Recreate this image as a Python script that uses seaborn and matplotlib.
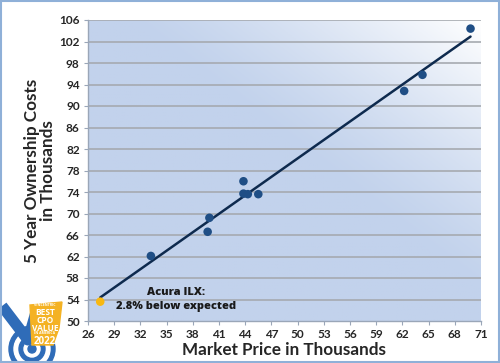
import matplotlib
matplotlib.use("Agg")
import matplotlib.pyplot as plt
import matplotlib.patches as mpatches
from matplotlib.colors import LinearSegmentedColormap
import seaborn as sns
import numpy as np
import pandas as pd

# market price vs 5 year ownership cost (thousands)
market_price = [27.4, 33.2, 39.7, 39.9, 43.8, 43.8, 44.3, 45.5, 62.2, 64.3, 69.8]
ownership_cost = [53.6, 62.1, 66.6, 69.2, 76.0, 73.7, 73.6, 73.6, 92.8, 95.8, 104.4]
highlight = ["Acura ILX"] + ["other"] * 10

x_ticks = list(range(26, 72, 3))
y_ticks = list(range(50, 107, 4))

df = pd.DataFrame({"price": market_price, "cost": ownership_cost, "car": highlight})

sns.set_theme(style="white")
plt.rcParams["font.family"] = ["Lato", "DejaVu Sans"]

fig = plt.figure(figsize=(5, 3.63), dpi=100)
ax = fig.add_axes([88 / 500, 1 - 321 / 363, 393 / 500, 301 / 363])

# gradient background: blue, fading to white toward the top-right corner
gx, gy = np.meshgrid(np.linspace(0, 1, 200), np.linspace(0, 1, 200))
t = np.clip(((gx + gy) / 2 - 0.55) / 0.45, 0, 1) ** 1.3
cmap = LinearSegmentedColormap.from_list("bg", ["#c2d2ec", "#ffffff"])
ax.imshow(t, cmap=cmap, extent=[26, 71, 50, 106], origin="lower",
          aspect="auto", zorder=0, vmin=0, vmax=1)

for yv in y_ticks[1:]:
    ax.axhline(yv, color="#a6aab0", lw=1.2, zorder=1)

# linear trend line
slope, icpt = np.polyfit(market_price, ownership_cost, 1)
xl = np.array([min(market_price), max(market_price)])
ax.plot(xl, slope * xl + icpt, color="#0e2a4e", lw=1.8, zorder=3)

sns.scatterplot(data=df, x="price", y="cost", hue="car",
                palette={"Acura ILX": "#f8b812", "other": "#1f4e85"},
                s=38, edgecolor="none", legend=False, zorder=4, ax=ax)

ax.set_xlim(26, 71)
ax.set_ylim(50, 106)
ax.set_xticks(x_ticks)
ax.set_yticks(y_ticks)
ax.tick_params(axis="both", labelsize=8.5, length=3, width=0.8,
               color="#9aa6b8", pad=3, direction="out", bottom=True, left=True)
for lab in ax.get_xticklabels() + ax.get_yticklabels():
    lab.set_fontweight("bold")
for side in ["top", "right"]:
    ax.spines[side].set_visible(False)
for side in ["left", "bottom"]:
    ax.spines[side].set_color("#9aa6b8")
    ax.spines[side].set_linewidth(1)

ax.set_xlabel("Market Price in Thousands", fontsize=12.3, fontweight="bold",
              labelpad=1)
ax.set_ylabel("5 Year Ownership Costs\nin Thousands", fontsize=12.3,
              fontweight="bold", labelpad=2, linespacing=1.05)

ax.text(36.1, 54.0, "Acura ILX:\n2.8% below expected", ha="center", va="center",
        fontsize=8, fontweight="heavy", color="#1a1a1a", linespacing=1.35,
        family="Open Sans")

# outer border
fig.patches.append(mpatches.Rectangle((0.002, 0.003), 0.996, 0.994,
                                      transform=fig.transFigure, fill=False,
                                      edgecolor="#8fb0d8", lw=1.5))

# badge in the bottom-left corner (approximation)
logo = fig.add_axes([0, 0, 1, 1], facecolor="none")
logo.set_xlim(0, 500)
logo.set_ylim(363, 0)
logo.axis("off")
for r, c in [(23, "#2f6cb8"), (18, "white"), (13, "#2f6cb8"), (8, "white"), (4, "#2f6cb8")]:
    logo.add_patch(mpatches.Circle((32, 349), r, color=c, zorder=1))
logo.plot([2, 28, 36], [306, 340, 312], color="#2f6cb8", lw=8,
          solid_capstyle="butt", zorder=2)
logo.add_patch(mpatches.Polygon([(30, 305), (62, 302), (59, 328), (53, 345), (32, 345)],
                                closed=True, color="#f4b223", zorder=3))
badge_kw = dict(ha="center", fontweight="bold", color="white", zorder=4,
                family="Open Sans")
logo.text(45, 305.5, "VINCENTRIC", va="center", fontsize=2.5, **badge_kw)
logo.text(45, 308, "BEST\nCPO\nVALUE", va="top", fontsize=6,
          linespacing=0.85, **badge_kw)
logo.text(45, 333.5, "IN AMERICA", va="center", fontsize=2.5, **badge_kw)
logo.text(45, 336, "2022", va="top", fontsize=7, **badge_kw)

fig.savefig("out.png", dpi=100)
